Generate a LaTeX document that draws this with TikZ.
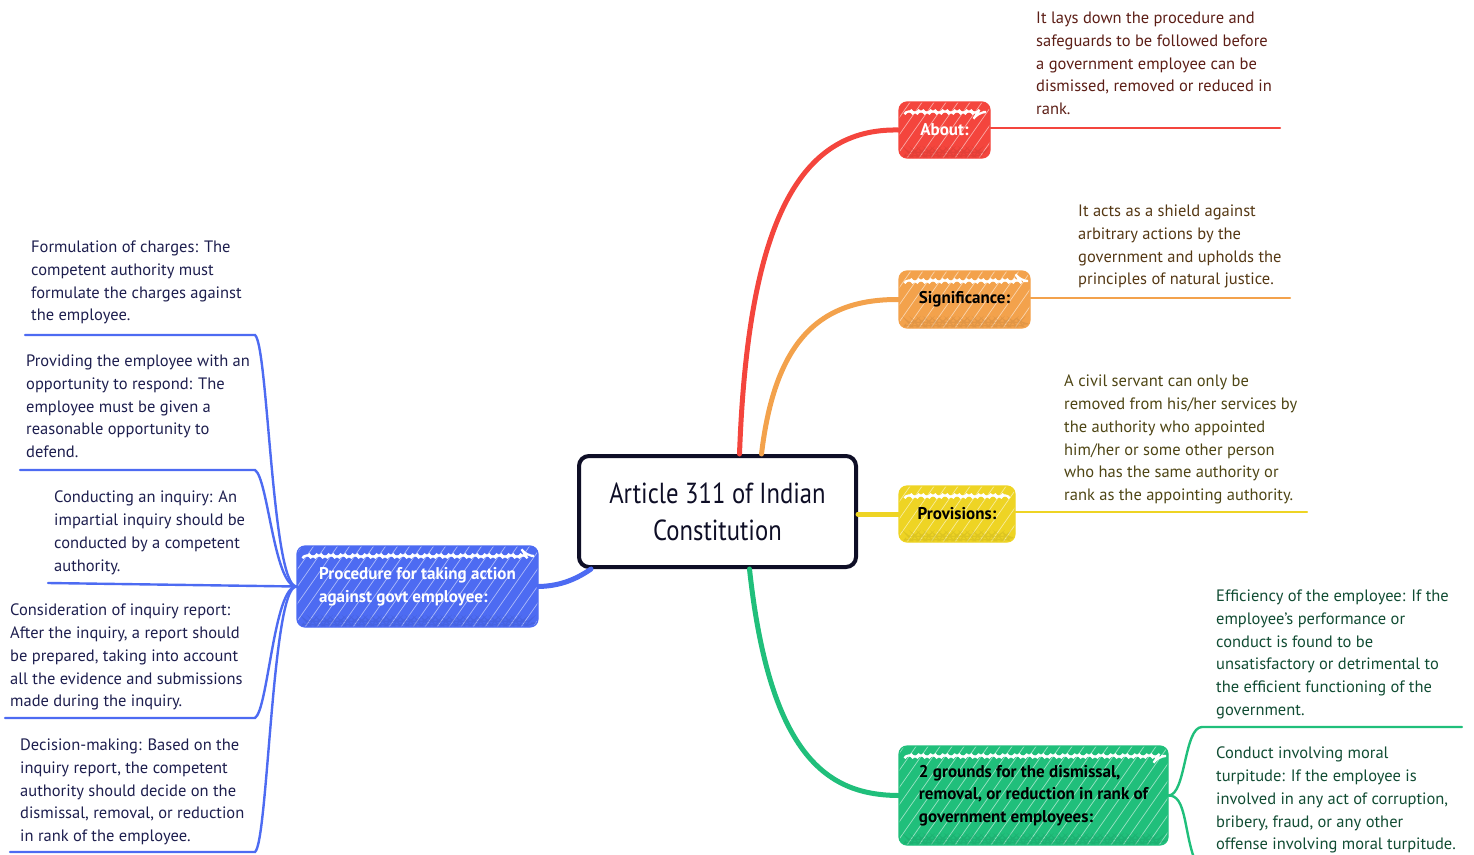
\documentclass[tikz,border=0pt]{standalone}
\usepackage{fontspec}
\setmainfont{PT Sans}
\newfontfamily\ctrfont[FakeStretch=0.85]{PT Sans}
\usetikzlibrary{decorations.pathmorphing}
\definecolor{cred}{HTML}{F4453D}
\definecolor{corange}{HTML}{F3A24C}
\definecolor{cyellow}{HTML}{EED424}
\definecolor{cgreen}{HTML}{20BF7B}
\definecolor{cblue}{HTML}{4D6BF2}
\definecolor{tred}{HTML}{5C1E16}
\definecolor{torange}{HTML}{553814}
\definecolor{tyellow}{HTML}{4E4514}
\definecolor{tgreen}{HTML}{114C33}
\definecolor{tblue}{HTML}{1D1E4E}
\definecolor{cnavy}{HTML}{0E0E26}
\begin{document}
\begin{tikzpicture}[x=1pt,y=-1pt,
  txt/.style={anchor=north west, align=left, inner sep=0pt, font=\fontsize{16.5}{22.7}\selectfont},
  branch/.style={rounded corners=8pt, inner sep=0pt, fill=#1, draw=#1, line width=1.2pt,
    font=\fontsize{17}{22.7}\selectfont\bfseries,
    path picture={
      \foreach \k in {-100,-88,...,300}{
        \draw[white,opacity=0.55,line width=0.7pt]
          ([xshift=\k pt]path picture bounding box.south west) -- ++(70,-100);}
      \draw[white,line width=2.2pt,line join=miter,decorate,decoration={zigzag,segment length=12pt,amplitude=4.5pt}]
          ([xshift=7pt,yshift=-10pt]path picture bounding box.north west) --
          ([xshift=-7pt,yshift=-10pt]path picture bounding box.north east);
      \draw[#1!80!black,opacity=0.35,line width=1.2pt,decorate,decoration={zigzag,segment length=7pt,amplitude=2pt}]
          ([xshift=7pt,yshift=4pt]path picture bounding box.south west) --
          ([xshift=-7pt,yshift=4pt]path picture bounding box.south east);
    }},
  main/.style={line width=5pt, line cap=round},
  sub/.style={line width=2.4pt, line cap=round}
]
\useasboundingbox (0,0) rectangle (1474,854);

% central node
\node[draw=cnavy, line width=4pt, rounded corners=10pt, fill=white, text=cnavy,
  minimum width=277pt, minimum height=111pt, align=center,
  font=\ctrfont\fontsize{29}{37}\selectfont] (center) at (717.5,511.5)
  {Article 311 of Indian\\Constitution};

% branch nodes
\node[branch=cred, text=white, minimum width=91pt, minimum height=56pt] (about) at (944.5,130) {About:};
\node[branch=corange, text=black, minimum width=131pt, minimum height=57pt] (sig) at (964.5,299.5) {Significance:};
\node[branch=cyellow, text=black, minimum width=116pt, minimum height=56pt] (prov) at (957,514) {Provisions:};
\node[branch=cgreen, text=black, minimum width=269pt, minimum height=99pt, align=left] (grounds) at (1033.5,795.5)
  {2 grounds for the dismissal,\\removal, or reduction in rank of\\government employees:};
\node[branch=cblue, text=white, minimum width=241pt, minimum height=81pt, align=left] (proc) at (417.5,586.5)
  {Procedure for taking action\\against govt employee:};

% main connectors
\draw[main, cred] ([xshift=22pt]center.north) .. controls (748,220) and (800,128) .. (about.west);
\draw[main, corange] ([xshift=44pt]center.north) .. controls (775,340) and (820,299) .. (sig.west);
\draw[main, cyellow] (center.east |- prov.west) -- (prov.west);
\draw[main, cgreen] ([xshift=32pt]center.south) .. controls (770,760) and (830,795) .. (grounds.west);
\draw[main, cblue] (proc.east) .. controls (562,586) and (578,578) .. ([xshift=14pt]center.south west);

% right texts and underlines
\coordinate (aboutend) at (1280,128);
\draw[sub, cred] (about.east |- aboutend) -- (aboutend);
\node[txt, text=tred] (abouttxt) at (1036,12)
  {It lays down the procedure and\\safeguards to be followed before\\a government employee can be\\dismissed, removed or reduced in\\rank.};

\coordinate (sigend) at (1290,298);
\draw[sub, corange] (sig.east |- sigend) -- (sigend);
\node[txt, text=torange] (sigtxt) at (1078,205)
  {It acts as a shield against\\arbitrary actions by the\\government and upholds the\\principles of natural justice.};

\coordinate (provend) at (1307,512);
\draw[sub, cyellow] (prov.east |- provend) -- (provend);
\node[txt, text=tyellow] (provtxt) at (1064,375)
  {A civil servant can only be\\removed from his/her services by\\the authority who appointed\\him/her or some other person\\who has the same authority or\\rank as the appointing authority.};

% green children
\coordinate (effs) at (1202,727);
\coordinate (effe) at (1462,727);
\draw[sub, cgreen] (grounds.east) .. controls (1186,795) and (1184,727) .. (effs) -- (effe);
\node[txt, text=tgreen] (efftxt) at (1216,590)
  {Efficiency of the employee: If the\\employee's performance or\\conduct is found to be\\unsatisfactory or detrimental to\\the efficient functioning of the\\government.};
\coordinate (conds) at (1194,858);
\draw[sub, cgreen] (grounds.east) .. controls (1186,795) and (1184,830) .. (conds);
\node[txt, text=tgreen] (condtxt) at (1216,747)
  {Conduct involving moral\\turpitude: If the employee is\\involved in any act of corruption,\\bribery, fraud, or any other\\offense involving moral turpitude.};

% blue children
\coordinate (u1e) at (255,335); \coordinate (u1s) at (25,335);
\coordinate (u2e) at (255,470); \coordinate (u2s) at (20,470);
\coordinate (u3s) at (48,583);
\coordinate (u4e) at (255,718); \coordinate (u4s) at (5,718);
\coordinate (u5e) at (255,852); \coordinate (u5s) at (10,852);
\draw[sub, cblue] (proc.west) .. controls (272,586) and (268,345) .. (u1e) -- (u1s);
\draw[sub, cblue] (proc.west) .. controls (274,586) and (268,478) .. (u2e) -- (u2s);
\draw[sub, cblue] (proc.west) -- (u3s);
\draw[sub, cblue] (proc.west) .. controls (274,586) and (268,710) .. (u4e) -- (u4s);
\draw[sub, cblue] (proc.west) .. controls (272,586) and (268,842) .. (u5e) -- (u5s);

\node[txt, text=tblue] (t1) at (31,241)
  {Formulation of charges: The\\competent authority must\\formulate the charges against\\the employee.};
\node[txt, text=tblue] (t2) at (26,355)
  {Providing the employee with an\\opportunity to respond: The\\employee must be given a\\reasonable opportunity to\\defend.};
\node[txt, text=tblue] (t3) at (54,491)
  {Conducting an inquiry: An\\impartial inquiry should be\\conducted by a competent\\authority.};
\node[txt, text=tblue] (t4) at (10,604)
  {Consideration of inquiry report:\\After the inquiry, a report should\\be prepared, taking into account\\all the evidence and submissions\\made during the inquiry.};
\node[txt, text=tblue] (t5) at (20,739)
  {Decision-making: Based on the\\inquiry report, the competent\\authority should decide on the\\dismissal, removal, or reduction\\in rank of the employee.};
\end{tikzpicture}
\end{document}
